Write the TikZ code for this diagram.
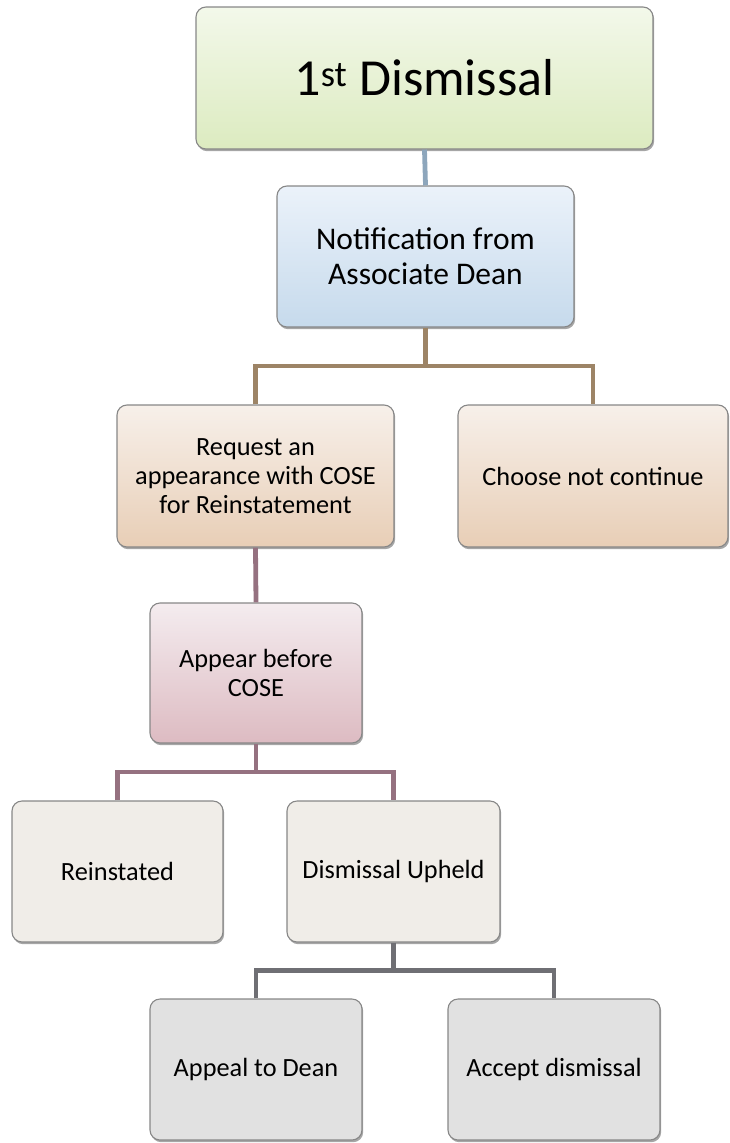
\documentclass[tikz,border=0pt]{standalone}
\usepackage{fontspec}
\setmainfont{Carlito}
\usetikzlibrary{shadows}
\definecolor{gTop}{HTML}{F3F8EA}\definecolor{gBot}{HTML}{DCEBC0}
\definecolor{bTop}{HTML}{EBF2FA}\definecolor{bBot}{HTML}{C6DAEC}
\definecolor{tTop}{HTML}{F7F0EA}\definecolor{tBot}{HTML}{E8CEB6}
\definecolor{pTop}{HTML}{F4ECEF}\definecolor{pBot}{HTML}{DDBBC2}
\definecolor{beige}{HTML}{F0EDE8}
\definecolor{greyfill}{HTML}{E1E1E1}
\definecolor{edge}{HTML}{878787}
\definecolor{cBlue}{HTML}{8DA6BC}
\definecolor{cBrown}{HTML}{9D8466}
\definecolor{cMauve}{HTML}{957180}
\definecolor{cGrey}{HTML}{6F6F74}
\tikzset{
  box/.style={draw=edge, line width=1.1pt, rounded corners=10pt, inner sep=0pt,
    align=center, text=black,
    drop shadow={shadow xshift=1.2pt, shadow yshift=-2.2pt, opacity=0.35, fill=black}},
  small/.style={font=\fontsize{26.3}{29}\selectfont},
  conn/.style={line width=4.8pt, line join=miter, line cap=butt}
}
\begin{document}
\begin{tikzpicture}[x=1pt,y=-1pt]
\useasboundingbox (0,0) rectangle (730,1143);
\node[box, top color=gTop, bottom color=gBot, minimum width=457pt, minimum height=142pt,
  font=\fontsize{52}{60}\selectfont] (title) at (424.5,78) {1\textsuperscript{st} Dismissal};
\node[box, top color=bTop, bottom color=bBot, minimum width=297pt, minimum height=141pt,
  font=\fontsize{31.5}{35}\selectfont] (notif) at (425.5,256.5) {Notification from\\Associate Dean};
\node[box, small, top color=tTop, bottom color=tBot, minimum width=277pt, minimum height=142pt] (request) at (255.5,476) {Request an\\appearance with COSE\\for Reinstatement};
\node[box, small, top color=tTop, bottom color=tBot, minimum width=270pt, minimum height=142pt] (choose) at (593,476) {Choose not continue};
\node[box, small, top color=pTop, bottom color=pBot, minimum width=212pt, minimum height=140pt] (appear) at (256,673) {Appear before\\COSE};
\node[box, small, fill=beige, minimum width=211pt, minimum height=141pt] (reinst) at (117.5,871.5) {Reinstated};
\node[box, small, fill=beige, minimum width=213pt, minimum height=141pt] (upheld) at (393.5,871.5) {Dismissal Upheld};
\node[box, small, fill=greyfill, minimum width=212pt, minimum height=141pt] (appeal) at (256,1069.5) {Appeal to Dean};
\node[box, small, fill=greyfill, minimum width=212pt, minimum height=141pt] (accept) at (554,1069.5) {Accept dismissal};
\coordinate (b1) at (0,366);
\coordinate (b2) at (0,772);
\coordinate (b3) at (0,970.5);
\draw[conn, cBlue] (title.south) -- (notif.north);
\draw[conn, cBrown] (notif.south) -- (notif.south |- b1);
\draw[conn, cBrown] (request.north) -- (request.north |- b1) -- (choose.north |- b1) -- (choose.north);
\draw[conn, cMauve] (request.south) -- (appear.north);
\draw[conn, cMauve] (appear.south) -- (appear.south |- b2);
\draw[conn, cMauve] (reinst.north) -- (reinst.north |- b2) -- (upheld.north |- b2) -- (upheld.north);
\draw[conn, cGrey] (upheld.south) -- (upheld.south |- b3);
\draw[conn, cGrey] (appeal.north) -- (appeal.north |- b3) -- (accept.north |- b3) -- (accept.north);
\end{tikzpicture}
\end{document}
